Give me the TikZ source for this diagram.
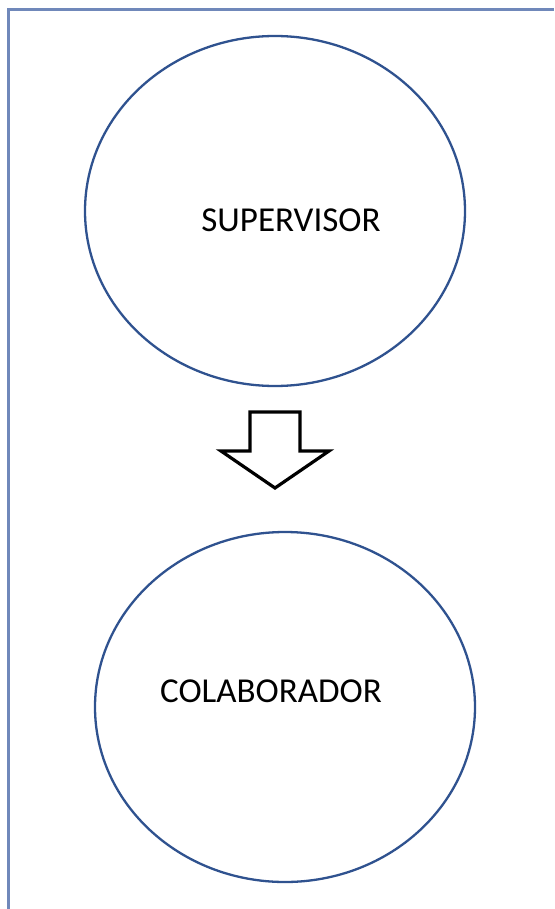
\documentclass[tikz,border=0pt]{standalone}
\usepackage{fontspec}
\setmainfont{Carlito}
\usepackage{xcolor}
\usetikzlibrary{shapes.geometric, positioning}

\definecolor{rolline}{HTML}{2F528F}
\definecolor{frameline}{HTML}{7088BA}

\begin{document}
\begin{tikzpicture}[
                x=1pt, y=-1pt,
                role/.style={draw=rolline, line width=2.3pt, ellipse, minimum width=380pt, minimum height=350pt, inner sep=0pt},
                rolelabel/.style={font=\fontsize{35}{40}\selectfont, anchor=base, inner sep=0pt},
                blockarrow/.style={draw=black, line width=3.2pt, fill=white, line join=miter}
            ]
                \useasboundingbox (0,0) rectangle (554,909);

                % frame
                \draw[frameline, line width=3pt] (8,909) -- (8,9.5) -- (554,9.5);

                \node[role] (supervisor) at (275,211) {};
                \node[role] (colaborador) at (285,707) {};

                \node[rolelabel] (suplabel) at ([shift={(16pt,-20pt)}]supervisor.center) {SUPERVISOR};
                \node[rolelabel] (colabel) at ([shift={(-14pt,5pt)}]colaborador.center) {COLABORADOR};

                % block arrow
                \coordinate (tip) at (275,488);
                \draw[blockarrow] (tip) -- ++(-54,-37) -- ++(29,0) -- ++(0,-39) -- ++(50,0)
                    -- ++(0,39) -- ++(29,0) -- cycle;
            \end{tikzpicture}
\end{document}
